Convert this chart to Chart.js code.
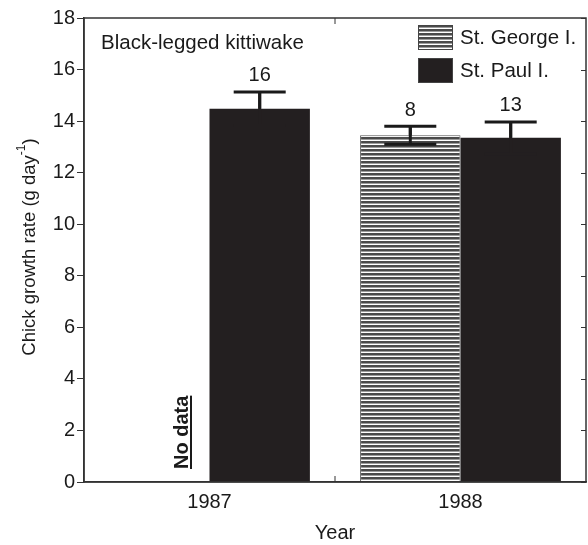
<!DOCTYPE html>
<html>
<head>
<meta charset="utf-8">
<script src="https://cdn.jsdelivr.net/npm/chart.js@4/dist/chart.umd.min.js"></script>
<style>
  html, body { margin: 0; padding: 0; background: #fff; }
  canvas { display: block; }
</style>
</head>
<body>
<canvas id="chart" width="588" height="545"></canvas>
<script>
// data
const years = ['1987', '1988'];
const stGeorge = [null, 13.45];
const stPaul = [14.48, 13.35];
const errStGeorge = [null, 0.35];
const errStPaul = [0.65, 0.62];
const nStGeorge = [null, 8];
const nStPaul = [16, 13];
const yTicks = [0, 2, 4, 6, 8, 10, 12, 14, 16, 18];

const FONT = '"Liberation Sans", Arial, sans-serif';
const BAR_BLACK = '#231f20';

// horizontal line hatch for St. George
function makeHatch() {
    const c = document.createElement('canvas');
    c.width = 8; c.height = 4;
    const g = c.getContext('2d');
    g.fillStyle = '#ffffff'; g.fillRect(0, 0, 8, 1);
    g.fillStyle = '#4a4a4a'; g.fillRect(0, 1, 8, 2);
    g.fillStyle = '#9c9c9c'; g.fillRect(0, 3, 8, 1);
    return g.createPattern(c, 'repeat');
}
const ctx = document.getElementById('chart').getContext('2d');
const hatch = makeHatch();

const errs = [errStGeorge, errStPaul];
const counts = [nStGeorge, nStPaul];

const extras = {
    id: 'extras',
    afterDatasetsDraw(chart) {
        const c = chart.ctx;
        const y = chart.scales.y;
        c.save();
        c.lineWidth = 3;
        chart.data.datasets.forEach((ds, i) => {
            const meta = chart.getDatasetMeta(i);
            ds.data.forEach((v, j) => {
                if (v == null) return;
                const x = meta.data[j].x;
                const top = y.getPixelForValue(v + errs[i][j]);
                const bot = y.getPixelForValue(v - errs[i][j]);
                // lower whisker in the bar's own dark tone (hidden on black bars)
                c.strokeStyle = i === 0 ? '#1a1a1a' : BAR_BLACK;
                c.beginPath();
                c.moveTo(x, bot); c.lineTo(x, top);
                c.moveTo(x - 26, bot); c.lineTo(x + 26, bot);
                c.stroke();
                c.strokeStyle = '#1a1a1a';
                c.beginPath();
                c.moveTo(x, y.getPixelForValue(v)); c.lineTo(x, top);
                c.moveTo(x - 26, top); c.lineTo(x + 26, top);
                c.stroke();
                c.fillStyle = '#1a1a1a';
                c.font = '20px ' + FONT;
                c.textAlign = 'center';
                c.textBaseline = 'bottom';
                c.fillText(String(counts[i][j]), x, top - 6);
            });
        });
        c.restore();
    },
    afterDraw(chart) {
        const c = chart.ctx;
        const a = chart.chartArea;
        const y = chart.scales.y;
        c.save();
        // frame
        c.strokeStyle = '#333';
        c.lineWidth = 1.5;
        c.strokeRect(a.left, a.top, a.right - a.left, a.bottom - a.top);
        // mirrored inner ticks on the right
        c.lineWidth = 1;
        c.beginPath();
        yTicks.forEach(t => {
            const py = Math.round(y.getPixelForValue(t)) + 0.5;
            c.moveTo(a.right, py); c.lineTo(a.right - 5, py);
        });
        // category boundary ticks top and bottom
        const mid = (a.left + a.right) / 2;
        c.moveTo(mid, a.top); c.lineTo(mid, a.top + 6);
        c.moveTo(mid, a.bottom); c.lineTo(mid, a.bottom - 6);
        c.stroke();

        c.fillStyle = '#1a1a1a';
        // panel title
        c.font = '20.5px ' + FONT;
        c.textAlign = 'left';
        c.textBaseline = 'middle';
        c.fillText('Black-legged kittiwake', 101, 43);

        // legend
        const items = [
            { label: chart.data.datasets[0].label, fill: hatch, y: 25 },
            { label: chart.data.datasets[1].label, fill: BAR_BLACK, y: 58 }
        ];
        c.font = '20.5px ' + FONT;
        items.forEach(it => {
            c.fillStyle = it.fill;
            c.fillRect(418, it.y, 35, 25);
            c.strokeStyle = '#444';
            c.lineWidth = 1;
            c.strokeRect(418.5, it.y + 0.5, 34, 24);
            c.fillStyle = '#1a1a1a';
            c.fillText(it.label, 460, it.y + 13);
        });

        // "No data" marker for St. George 1987
        c.save();
        c.translate(182, 469);
        c.rotate(-Math.PI / 2);
        c.font = 'bold 20px ' + FONT;
        c.textAlign = 'left';
        c.textBaseline = 'middle';
        c.fillText('No data', 0, 0);
        const w = c.measureText('No data').width;
        c.fillRect(0, 8, w, 2);
        c.restore();

        // y axis title with superscript
        c.save();
        c.translate(30, 247);
        c.rotate(-Math.PI / 2);
        c.textBaseline = 'middle';
        c.textAlign = 'left';
        const main = 'Chick growth rate (g day';
        c.font = '18.5px ' + FONT;
        const w1 = c.measureText(main).width;
        c.font = '12px ' + FONT;
        const w2 = c.measureText('-1').width;
        c.font = '18.5px ' + FONT;
        const w3 = c.measureText(')').width;
        const x0 = -(w1 + w2 + w3) / 2;
        c.fillText(main, x0, 0);
        c.font = '12px ' + FONT;
        c.fillText('-1', x0 + w1, -8);
        c.font = '18.5px ' + FONT;
        c.fillText(')', x0 + w1 + w2, 0);
        c.restore();

        c.restore();
    }
};

new Chart(ctx, {
    type: 'bar',
    data: {
        labels: years,
        datasets: [{
            label: 'St. George I.',
            data: stGeorge,
            backgroundColor: hatch,
            borderColor: '#555',
            borderWidth: 1
        }, {
            label: 'St. Paul I.',
            data: stPaul,
            backgroundColor: BAR_BLACK,
            borderColor: BAR_BLACK,
            borderWidth: 0
        }]
    },
    options: {
        responsive: false,
        animation: false,
        devicePixelRatio: 1,
        layout: { padding: { top: 18, right: 2, left: 0, bottom: 0 } },
        categoryPercentage: 0.8,
        barPercentage: 1.0,
        plugins: {
            legend: { display: false },
            tooltip: { enabled: false }
        },
        scales: {
            x: {
                grid: { display: false, offset: true },
                border: { color: '#333', width: 1.5 },
                ticks: { color: '#1a1a1a', padding: 0, font: { family: FONT, size: 20 } },
                title: {
                    display: true, text: 'Year', color: '#1a1a1a',
                    font: { family: FONT, size: 20 }, padding: { top: 0, bottom: 0 }
                },
                afterFit(s) { s.height = 63; }
            },
            y: {
                min: 0, max: 18,
                afterBuildTicks(s) { s.ticks = yTicks.map(v => ({ value: v })); },
                grid: { drawOnChartArea: false, tickLength: 7, color: '#333' },
                border: { color: '#333', width: 1.5 },
                ticks: { color: '#1a1a1a', padding: 2, font: { family: FONT, size: 20 } },
                afterFit(s) { s.width = 84; }
            }
        }
    },
    plugins: [extras]
});
</script>
</body>
</html>
